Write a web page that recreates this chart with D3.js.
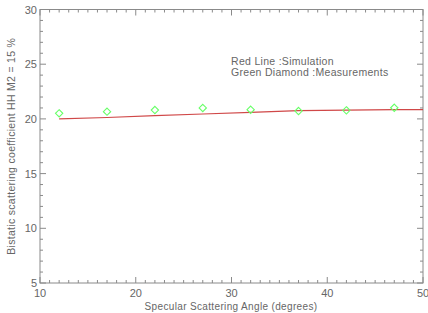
<!DOCTYPE html>
<html>
<head>
<meta charset="utf-8">
<script src="https://cdn.jsdelivr.net/npm/d3@7"></script>
<style>
  body { margin: 0; background: #fff; }
  text { font-family: "Liberation Sans", sans-serif; fill: #666; }
</style>
</head>
<body>
<script>
// simulation (red line)
var simAngles = [12, 17, 22, 27, 32, 37, 42, 47, 50];
var simValues = [20.0, 20.13, 20.3, 20.45, 20.6, 20.75, 20.8, 20.85, 20.85];
// measurements (green diamonds)
var measAngles = [12, 17, 22, 27, 32, 37, 42, 47];
var measValues = [20.51, 20.66, 20.81, 21.0, 20.84, 20.72, 20.78, 21.02];
var xTicks = [10, 20, 30, 40, 50];
var yTicks = [5, 10, 15, 20, 25, 30];

var width = 428, height = 313;
var margin = {left: 40, right: 5, top: 9.5, bottom: 30};

var svg = d3.select("body").append("svg")
    .attr("width", width)
    .attr("height", height);

var x = d3.scaleLinear().domain([10, 50]).range([margin.left, width - margin.right]);
var y = d3.scaleLinear().domain([5, 30]).range([height - margin.bottom, margin.top]);

var axisColor = "#8a8a8a";
var g = svg.append("g");

// box
g.append("rect")
    .attr("x", x(10)).attr("y", y(30))
    .attr("width", x(50) - x(10)).attr("height", y(5) - y(30))
    .attr("fill", "none").attr("stroke", axisColor).attr("stroke-width", 1);

// inward ticks on all four sides
d3.range(10, 51, 1).forEach(function (v) {
    var len = v % 10 === 0 ? 6 : 3;
    g.append("line").attr("x1", x(v)).attr("x2", x(v))
        .attr("y1", y(5)).attr("y2", y(5) - len)
        .attr("stroke", axisColor);
    g.append("line").attr("x1", x(v)).attr("x2", x(v))
        .attr("y1", y(30)).attr("y2", y(30) + len)
        .attr("stroke", axisColor);
});
d3.range(5, 31, 1).forEach(function (v) {
    var len = v % 5 === 0 ? 6 : 3;
    g.append("line").attr("y1", y(v)).attr("y2", y(v))
        .attr("x1", x(10)).attr("x2", x(10) + len)
        .attr("stroke", axisColor);
    g.append("line").attr("y1", y(v)).attr("y2", y(v))
        .attr("x1", x(50)).attr("x2", x(50) - len)
        .attr("stroke", axisColor);
});

// tick labels
g.selectAll(".xl").data(xTicks).enter().append("text")
    .attr("x", function (d) { return x(d); })
    .attr("y", y(5) + 14)
    .attr("text-anchor", "middle")
    .style("font-size", "11px")
    .text(function (d) { return d; });
g.selectAll(".yl").data(yTicks).enter().append("text")
    .attr("x", x(10) - 3)
    .attr("y", function (d) { return y(d) + 4; })
    .attr("text-anchor", "end")
    .style("font-size", "11px")
    .text(function (d) { return d; });

// axis titles
svg.append("text")
    .attr("x", 231)
    .attr("y", 310)
    .attr("text-anchor", "middle")
    .style("font-size", "10px")
    .style("letter-spacing", "0.35px")
    .text("Specular Scattering Angle (degrees)");
svg.append("text")
    .attr("transform", "translate(15," + ((y(5) + y(30)) / 2) + ") rotate(-90)")
    .attr("text-anchor", "middle")
    .style("font-size", "10.5px")
    .style("letter-spacing", "0.3px")
    .text("Bistatic scattering coefficient HH M2 = 15 %");

// legend text
svg.append("text").attr("x", 231).attr("y", 65)
    .style("font-size", "10.5px").style("letter-spacing", "0.3px")
    .text("Red Line :Simulation");
svg.append("text").attr("x", 231).attr("y", 76)
    .style("font-size", "10.5px").style("letter-spacing", "0.3px")
    .text("Green Diamond :Measurements");

// simulation line
var line = d3.line()
    .x(function (d, i) { return x(simAngles[i]); })
    .y(function (d) { return y(d); });
svg.append("path")
    .datum(simValues)
    .attr("d", line)
    .attr("fill", "none")
    .attr("stroke", "#d04848")
    .attr("stroke-width", 1.2);

// measurement diamonds
var sym = d3.symbol().type(d3.symbolDiamond2).size(34);
svg.selectAll(".pt").data(measValues).enter().append("path")
    .attr("transform", function (d, i) { return "translate(" + x(measAngles[i]) + "," + y(d) + ")"; })
    .attr("d", sym)
    .attr("fill", "none")
    .attr("stroke", "#66ff66")
    .attr("stroke-width", 1.1);
</script>
</body>
</html>
